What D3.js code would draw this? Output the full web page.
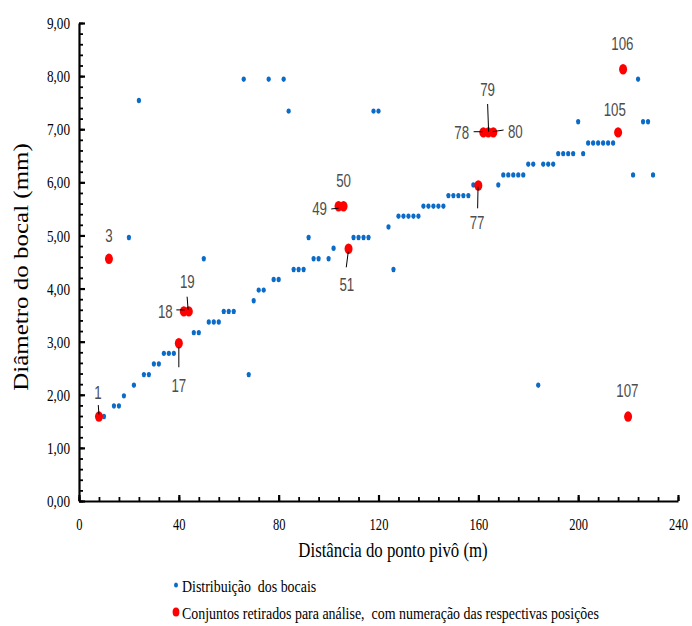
<!DOCTYPE html>
<html>
<head>
<meta charset="utf-8">
<script src="https://cdn.jsdelivr.net/npm/d3@7"></script>
<style>
  html, body { margin: 0; padding: 0; background: #fff; }
  svg { display: block; }
  .serif { font-family: "Liberation Serif", "Times New Roman", "DejaVu Serif", serif; }
  .sans { font-family: "Liberation Sans", Arial, sans-serif; }
</style>
</head>
<body>
<svg id="chart" width="692" height="626"></svg>
<script>
// ---------------- DATA ----------------
// Blue series: "Distribuição dos bocais" (distance in m, nozzle diameter in mm)
const blueX = [10,14,16,18,20,22,24,26,28,30,32,34,36,38,46,48,50,52,54,56,58,60,62,66,68,70,72,74,76,78,80,82,84,86,88,90,92,94,96,100,102,110,112,114,116,118,120,124,126,128,130,132,134,136,138,140,142,144,146,148,150,152,154,156,158,168,170,172,174,176,178,180,182,184,186,188,190,192,194,196,198,200,202,204,206,208,210,212,214,222,224,226,228,230];
const blueY = [1.59,1.79,1.79,1.98,4.96,2.18,7.54,2.38,2.38,2.58,2.58,2.78,2.78,2.78,3.17,3.17,4.56,3.37,3.37,3.37,3.57,3.57,3.57,7.94,2.38,3.77,3.97,3.97,7.94,4.17,4.17,7.94,7.34,4.36,4.36,4.36,4.96,4.56,4.56,4.56,4.76,4.96,4.96,4.96,4.96,7.34,7.34,5.16,4.36,5.36,5.36,5.36,5.36,5.36,5.55,5.55,5.55,5.55,5.55,5.75,5.75,5.75,5.75,5.75,5.95,5.95,6.14,6.14,6.14,6.14,6.14,6.34,6.34,2.18,6.34,6.34,6.34,6.54,6.54,6.54,6.54,7.14,6.54,6.74,6.74,6.74,6.74,6.74,6.74,6.14,7.94,7.14,7.14,6.14];
// Red series: "Conjuntos retirados para análise" with position numbers
const redX = [8,12,40,42,44,104,106,108,160,162,164,166,216,218,220];
const redY = [1.59,4.56,2.97,3.57,3.57,5.55,5.55,4.75,5.94,6.94,6.94,6.94,6.94,8.13,1.59];
const redLabels = ["1","3","17","18","19","49","50","51","77","78","79","80","105","106","107"];
// Axis ticks
const xTicks = [0,40,80,120,160,200,240];
const yTicks = [0,1,2,3,4,5,6,7,8,9];
const xTitle = "Distância do ponto pivô (m)";
const yTitle = "Diâmetro do bocal (mm)";
const legendLabels = ["Distribuição  dos bocais", "Conjuntos retirados para análise,  com numeração das respectivas posições"];

// ---------------- LAYOUT ----------------
const W = 692;
const m = {left: 79, right: 14};
const SX = 0.8;           // horizontal text compression of the original picture
const blue = "#0A6BC8", red = "#FF0000";

// label placement relative to its point: d = label centre offset, l = leader line start/end offsets
const labelLayout = {
  "1":   {d:[-1,-24],  l:[-0.7,-11.5, 0,-2]},
  "3":   {d:[0,-23],   l:null},
  "17":  {d:[0,42],    l:[0,24, 0,4]},
  "18":  {d:[-18.5,0], l:[-7.5,-1.5, 1,-1.5]},
  "19":  {d:[-1.5,-30],l:[-1.7,-14.7, -0.7,-1.4]},
  "49":  {d:[-19,2],   l:[-7.3,2.7, 0,2]},
  "50":  {d:[0,-26],   l:null},
  "51":  {d:[-1.7,35.6], l:[-2.3,18.6, -0.3,3]},
  "77":  {d:[-1.3,37], l:[-0.7,22.8, -0.3,1.2]},
  "78":  {d:[-21.7,0], l:[-9.7,-0.7, -0.7,-0.7]},
  "79":  {d:[-0.7,-43],l:[-0.7,-28.4, 0.3,-0.7]},
  "80":  {d:[22,-0.7], l:[10.3,-2.4, -0.7,-0.7]},
  "105": {d:[-3.3,-22.4], l:null},
  "106": {d:[-0.7,-26], l:null},
  "107": {d:[-0.7,-26.5], l:null}
};

// compress a text horizontally around its anchor point
function squeeze(sel, k) {
  sel.each(function() {
    const t = d3.select(this);
    const tx = +t.attr("x") || 0, ty = +t.attr("y") || 0;
    t.attr("x", 0).attr("y", 0)
     .attr("transform", `translate(${tx},${ty}) scale(${k},1)`);
  });
}

const svg = d3.select("#chart");
const x = d3.scaleLinear().domain([0, 240]).range([m.left, W - m.right]);
const y = d3.scaleLinear().domain([0, 9]).range([501, 23]);

const loc = d3.formatLocale({decimal: ",", thousands: ".", grouping: [3], currency: ["", ""]});
const fmt2 = loc.format(".2f");

// minor ticks
svg.append("g")
  .attr("transform", `translate(${m.left},0)`)
  .call(d3.axisLeft(y).tickValues(d3.range(0, 9.001, 0.2)).tickSize(-4).tickFormat(""))
  .call(g => g.select(".domain").remove())
  .call(g => g.selectAll("line").attr("stroke", "#000").attr("stroke-width", 1.8));
svg.append("g")
  .attr("transform", `translate(0,${y(0)})`)
  .call(d3.axisBottom(x).tickValues(d3.range(0, 240.001, 8)).tickSize(-4).tickFormat(""))
  .call(g => g.select(".domain").remove())
  .call(g => g.selectAll("line").attr("stroke", "#000").attr("stroke-width", 1.8));

// major axes
const yAxis = svg.append("g")
  .attr("transform", `translate(${m.left},0)`)
  .call(d3.axisLeft(y).tickValues(yTicks).tickSize(-6).tickSizeOuter(0).tickPadding(9).tickFormat(fmt2));
const xAxis = svg.append("g")
  .attr("transform", `translate(0,${y(0)})`)
  .call(d3.axisBottom(x).tickValues(xTicks).tickSize(-6).tickSizeOuter(0).tickPadding(17).tickFormat(d3.format("d")));

[yAxis, xAxis].forEach(g => {
  g.attr("font-family", null);
  g.select(".domain").attr("stroke", "#000").attr("stroke-width", 2.2);
  g.selectAll(".tick line").attr("stroke", "#000").attr("stroke-width", 2.2);
  g.selectAll(".tick text").attr("class", "serif").attr("font-size", 16.5).attr("fill", "#000");
});
yAxis.selectAll(".tick text").attr("dy", "0.34em");
squeeze(yAxis.selectAll(".tick text"), SX);
squeeze(xAxis.selectAll(".tick text"), 0.76);

// titles
const xt = svg.append("text")
  .attr("class", "serif")
  .attr("x", 393).attr("y", 557)
  .attr("text-anchor", "middle")
  .attr("font-size", 21).attr("fill", "#000")
  .text(xTitle);
squeeze(xt, SX);

svg.append("text")
  .attr("class", "serif")
  .attr("transform", `translate(28,267) scale(${SX},1) rotate(-90)`)
  .attr("text-anchor", "middle")
  .attr("font-size", 25).attr("fill", "#000")
  .text(yTitle);

// blue points
svg.append("g").selectAll("ellipse")
  .data(blueX.map((d, i) => ({x: d, y: blueY[i]})))
  .join("ellipse")
  .attr("cx", d => x(d.x)).attr("cy", d => y(d.y))
  .attr("rx", 2.1).attr("ry", 2.7)
  .attr("fill", blue);

// red points
const reds = redX.map((d, i) => ({x: d, y: redY[i], label: redLabels[i]}));
svg.append("g").selectAll("ellipse")
  .data(reds)
  .join("ellipse")
  .attr("cx", d => x(d.x)).attr("cy", d => y(d.y))
  .attr("rx", 4).attr("ry", 5.2)
  .attr("fill", red);

// leader lines
svg.append("g").selectAll("line")
  .data(reds.filter(d => labelLayout[d.label].l))
  .join("line")
  .attr("x1", d => x(d.x) + labelLayout[d.label].l[0])
  .attr("y1", d => y(d.y) + labelLayout[d.label].l[1])
  .attr("x2", d => x(d.x) + labelLayout[d.label].l[2])
  .attr("y2", d => y(d.y) + labelLayout[d.label].l[3])
  .attr("stroke", "#000").attr("stroke-width", 1);

// data labels
const lbl = svg.append("g").selectAll("text")
  .data(reds)
  .join("text")
  .attr("class", "sans")
  .attr("x", d => x(d.x) + labelLayout[d.label].d[0])
  .attr("y", d => y(d.y) + labelLayout[d.label].d[1])
  .attr("dy", "0.36em")
  .attr("text-anchor", "middle")
  .attr("font-size", 18).attr("fill", "#4d4d4d")
  .text(d => d.label);
squeeze(lbl, 0.74);

// legend
const leg = svg.append("g");
leg.append("ellipse").attr("cx", 176).attr("cy", 585).attr("rx", 2).attr("ry", 2.6).attr("fill", blue);
leg.append("ellipse").attr("cx", 176).attr("cy", 612).attr("rx", 3.4).attr("ry", 4.6).attr("fill", red);
const lt = leg.selectAll("text")
  .data(legendLabels)
  .join("text")
  .attr("class", "serif")
  .attr("x", 182).attr("y", (d, i) => 586 + i * 27)
  .attr("dy", "0.34em")
  .attr("font-size", 17).attr("fill", "#000")
  .attr("xml:space", "preserve")
  .style("white-space", "pre")
  .text(d => d);
squeeze(lt, 0.82);
</script>
</body>
</html>
